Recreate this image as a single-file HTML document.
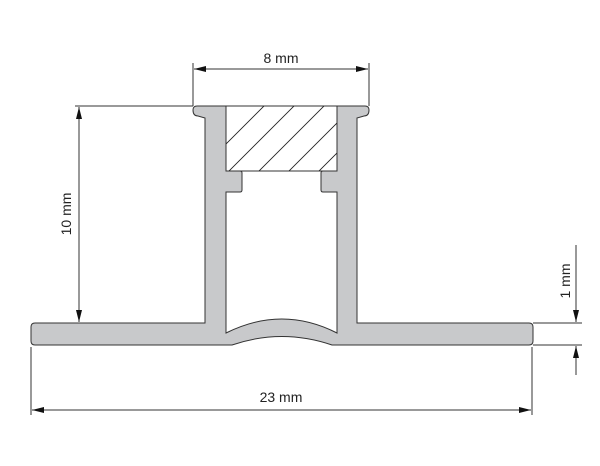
<!DOCTYPE html>
<html><head><style>body{margin:0;background:#fff}svg{display:block}</style></head><body>
<svg width="600" height="466" viewBox="0 0 600 466" xmlns="http://www.w3.org/2000/svg">
<defs>
<marker id="a" viewBox="0 0 12 6" refX="12" refY="3" markerWidth="12" markerHeight="6" markerUnits="userSpaceOnUse" orient="auto-start-reverse"><path d="M0,0L12,3L0,6z" fill="#111"/></marker>
<clipPath id="c"><rect x="226" y="106" width="111" height="65"/></clipPath>
</defs>
<g stroke="#333" stroke-width="1" fill="#c8c9cb">
<path d="M197,106 H365 Q369,106 369,110 Q369,116 364,116 L357,118 V323 H529 Q533,323 533,327 V341 Q533,345 529,345 H332 Q282,328 232,345 H35 Q31,345 31,341 V327 Q31,323 35,323 H205 V118 L198,116 Q193,116 193,110 Q193,106 197,106 Z M226,106 V171 H240 Q242,171 242,173 V190 Q242,192 240,192 H226 V333 Q282,305 337,333 V192 H323 Q321,192 321,190 V173 Q321,171 323,171 H337 V106 Z"/>
</g>
<rect x="226" y="106" width="111" height="65" fill="#fff" stroke="#333"/>
<g clip-path="url(#c)" stroke="#222" stroke-width="0.9">
<line x1="210" y1="160" x2="270" y2="100"/>
<line x1="220" y1="180" x2="300" y2="100"/>
<line x1="250" y1="180" x2="330" y2="100"/>
<line x1="280" y1="180" x2="360" y2="100"/>
<line x1="310" y1="180" x2="390" y2="100"/>
</g>
<g stroke="#333" stroke-width="1" fill="none">
<line x1="193" y1="63" x2="193" y2="106"/>
<line x1="369" y1="63" x2="369" y2="106"/>
<line x1="194" y1="69" x2="368" y2="69" marker-start="url(#a)" marker-end="url(#a)"/>
<line x1="75" y1="106" x2="193" y2="106"/>
<line x1="79" y1="107" x2="79" y2="322" marker-start="url(#a)" marker-end="url(#a)"/>
<line x1="31" y1="347" x2="31" y2="415"/>
<line x1="532" y1="347" x2="532" y2="415"/>
<line x1="32" y1="410" x2="531" y2="410" marker-start="url(#a)" marker-end="url(#a)"/>
<line x1="533" y1="323" x2="582" y2="323"/>
<line x1="533" y1="345" x2="582" y2="345"/>
<line x1="576" y1="245" x2="576" y2="322" marker-end="url(#a)"/>
<line x1="576" y1="375" x2="576" y2="346" marker-end="url(#a)"/>
</g>
<g font-family="Liberation Sans, sans-serif" font-size="14" fill="#222" text-anchor="middle">
<text x="281" y="63">8 mm</text>
<text x="281" y="402">23 mm</text>
<text transform="translate(71,214) rotate(-90)">10 mm</text>
<text transform="translate(570,281) rotate(-90)">1 mm</text>
</g>
</svg>
</body></html>
